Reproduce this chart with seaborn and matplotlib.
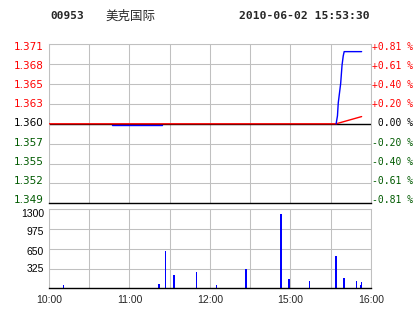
import matplotlib
matplotlib.use("Agg")
import matplotlib.pyplot as plt
import matplotlib.transforms as mtrans
import seaborn as sns
import pandas as pd
import numpy as np

# ---------------- data ----------------
code = "00953"
name = "美克国际"
stamp = "2010-06-02 15:53:30"
prev_close = 1.360

price_levels = [1.371, 1.368, 1.365, 1.363, 1.360, 1.357, 1.355, 1.352, 1.349]
pct_labels = ["+0.81 %", "+0.61 %", "+0.40 %", "+0.20 %", " 0.00 %",
              "-0.20 %", "-0.40 %", "-0.61 %", "-0.81 %"]

# price line (trading minutes since 10:00)
price_t1 = [47, 84.5]
price_v1 = [1.35988, 1.35988]
price_t2 = [214, 215, 215.6, 217.4, 218.4, 219.3, 220, 233]
price_v2 = [1.360, 1.3611, 1.3629, 1.3656, 1.3681, 1.3694, 1.3700, 1.3700]

# average price line
avg_t = [0, 214, 233]
avg_v = [1.360, 1.360, 1.3610]

# volume bars
vol_t = [11, 82, 87, 93, 110, 125, 147, 173, 179, 194, 214, 220, 229, 232, 233]
vol_v = [55, 70, 614, 219, 273, 55, 318, 1222, 153, 120, 531, 170, 120, 55, 104]

time_ticks = [0, 60, 120, 180, 240]
time_labels = ["10:00", "11:00", "12:00", "15:00", "16:00"]
vol_ticks = [1300, 975, 650, 325]

# ---------------- style ----------------
sns.set_theme(style="white")
plt.rcParams["font.family"] = ["DejaVu Sans"]
GRID = "#C0C0C0"
RED = "#FF0000"
GREEN = "#005A00"
BLUE = "#0000FF"
LW = 0.75

fig = plt.figure(figsize=(4.14, 3.14), dpi=100)
fig.patch.set_facecolor("white")

ax = fig.add_axes([49 / 414, 1 - 203.3 / 314, 322 / 414, 159 / 314])
axv = fig.add_axes([49 / 414, 1 - 288.3 / 314, 322 / 414, 79 / 314])

half = prev_close * 0.0081
for a in (ax, axv):
    a.set_xlim(0, 240)
    a.set_xticks(time_ticks)
    a.set_xticks([30, 90, 150, 210], minor=True)
    a.grid(True, which="both", color=GRID, linewidth=LW)
    a.set_axisbelow(True)
    a.tick_params(length=0, which="both")
    for s in ("top", "left", "right"):
        a.spines[s].set_color(GRID)
        a.spines[s].set_linewidth(LW)
    a.spines["bottom"].set_color("black")
    a.spines["bottom"].set_linewidth(1.0)

# ---- price panel ----
ax.set_ylim(prev_close - half, prev_close + half)
ax.axhline(prev_close, color="black", linewidth=1.0, zorder=2)
sns.lineplot(x=price_t1, y=price_v1, ax=ax, color=BLUE, linewidth=1.0, zorder=3)
sns.lineplot(x=avg_t, y=avg_v, ax=ax, color=RED, linewidth=1.0, zorder=4)
sns.lineplot(x=price_t2, y=price_v2, ax=ax, color=BLUE, linewidth=1.0, zorder=5)

yt = [prev_close + half * (4 - k) / 4 for k in range(9)]
ax.set_yticks(yt)
ax.set_yticklabels([])
ax.set_xticklabels([])
ax.set_xlabel("")
ax.set_ylabel("")

blend = mtrans.blended_transform_factory(ax.transAxes, ax.transData)
for k, (y, lab, pct) in enumerate(zip(yt, price_levels, pct_labels)):
    col = RED if k < 4 else ("black" if k == 4 else GREEN)
    dy = 2.7 - 0.75 * k
    tl = blend + mtrans.ScaledTranslation(-5 / 100, -dy / 100, fig.dpi_scale_trans)
    ax.text(0, y, f"{lab:.3f}", transform=tl, ha="right", va="center",
            fontsize=7.5, color=col, clip_on=False)
    tr = blend + mtrans.ScaledTranslation(1 / 100, -dy / 100, fig.dpi_scale_trans)
    ax.text(1, y, pct, transform=tr, ha="left", va="center",
            fontsize=7, color=col, family="DejaVu Sans Mono", clip_on=False)

# ---- volume panel ----
vdf = pd.DataFrame({"t": vol_t, "v": vol_v})
sns.barplot(data=vdf, x="t", y="v", ax=axv, native_scale=True, width=1.1,
            color=BLUE, linewidth=0, errorbar=None, saturation=1,
            antialiased=False)
axv.set_xlim(0, 240)
axv.set_ylim(0, 1300)
axv.set_yticks(vol_ticks)
axv.set_yticklabels([])
axv.set_xticks(time_ticks)
axv.set_xticklabels(time_labels, fontsize=7.5, family="Liberation Sans")
axv.tick_params(axis="x", pad=5)
axv.set_xlabel("")
axv.set_ylabel("")

blendv = mtrans.blended_transform_factory(axv.transAxes, axv.transData)
for v, dy in zip(vol_ticks, [4.2, 3.2, 2.7, 0.7]):
    tl = blendv + mtrans.ScaledTranslation(-5 / 100, -dy / 100, fig.dpi_scale_trans)
    axv.text(0, v, str(v), transform=tl, ha="right", va="center",
             fontsize=7.5, family="Liberation Sans", color="black", clip_on=False)

# ---- header ----
fig.text(50 / 414, 1 - 16 / 314, code, fontsize=8, fontweight="bold",
         family="DejaVu Sans Mono", va="center", ha="left")
fig.text(105 / 414, 1 - 16 / 314, name, fontsize=9,
         family=["Noto Sans CJK SC", "DejaVu Sans"], va="center", ha="left")
fig.text(370 / 414, 1 - 16 / 314, stamp, fontsize=8.2, fontweight="bold",
         family="DejaVu Sans Mono", va="center", ha="right")

fig.savefig("out.png", dpi=100, facecolor="white")
